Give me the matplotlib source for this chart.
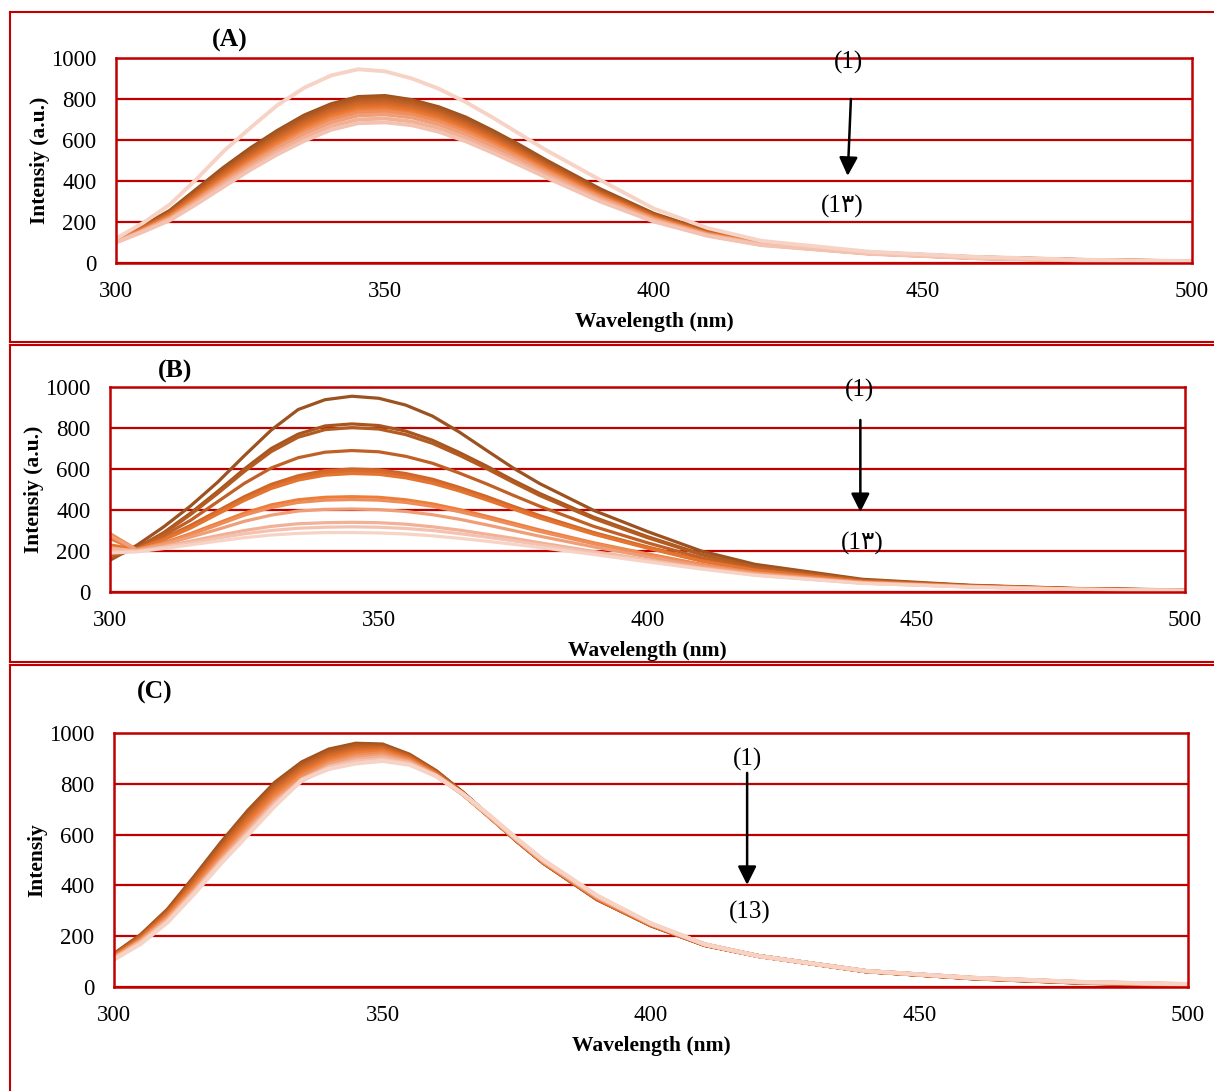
import matplotlib
matplotlib.use("Agg")
import matplotlib.pyplot as plt
from matplotlib.lines import Line2D

plt.rcParams['font.family'] = ['Liberation Serif', 'DejaVu Sans']

# wavelength grid (nm)
wl = [300, 305, 310, 315, 320, 325, 330, 335, 340, 345, 350, 355, 360, 365, 370,
      375, 380, 390, 400, 410, 420, 440, 460, 480, 500]

# panel A, curves (1) .. (13)
spec_a = [
    [115, 180, 255, 360, 465, 560, 645, 720, 775, 810, 815, 795, 760, 710, 645, 575, 500, 360, 240, 155, 100, 52, 28, 15, 8],
    [112, 178, 250, 352, 455, 550, 638, 712, 770, 805, 810, 790, 755, 702, 637, 566, 492, 352, 236, 152, 99, 51, 27, 14, 8],
    [110, 175, 246, 345, 447, 542, 628, 702, 760, 795, 800, 782, 745, 692, 628, 558, 485, 347, 233, 150, 98, 50, 27, 14, 7],
    [110, 172, 242, 340, 440, 533, 618, 692, 750, 785, 790, 772, 735, 683, 620, 550, 478, 342, 230, 148, 97, 50, 26, 14, 7],
    [108, 170, 238, 334, 432, 524, 608, 682, 740, 775, 780, 762, 726, 674, 612, 543, 472, 338, 227, 146, 96, 49, 26, 13, 7],
    [108, 168, 235, 328, 425, 515, 598, 672, 730, 765, 770, 752, 717, 666, 604, 536, 466, 334, 224, 145, 95, 49, 26, 13, 7],
    [106, 165, 230, 322, 417, 507, 590, 662, 720, 755, 760, 743, 708, 657, 596, 529, 460, 330, 221, 143, 94, 48, 25, 13, 7],
    [105, 162, 226, 316, 410, 498, 580, 652, 710, 745, 750, 733, 698, 648, 588, 522, 454, 326, 218, 141, 93, 48, 25, 13, 7],
    [104, 160, 222, 310, 402, 490, 570, 642, 700, 735, 740, 724, 690, 640, 580, 515, 448, 322, 216, 140, 92, 47, 25, 13, 7],
    [103, 158, 218, 304, 394, 480, 560, 630, 686, 720, 725, 710, 676, 627, 569, 505, 440, 316, 212, 138, 91, 47, 24, 12, 6],
    [102, 155, 213, 296, 384, 467, 545, 613, 668, 700, 705, 690, 658, 610, 553, 492, 428, 308, 207, 135, 89, 46, 24, 12, 6],
    [100, 152, 208, 288, 372, 455, 530, 596, 650, 682, 686, 672, 640, 594, 538, 478, 417, 300, 202, 132, 87, 45, 23, 12, 6],
    [120, 195, 285, 410, 545, 660, 770, 855, 915, 945, 935, 900, 850, 785, 710, 630, 550, 405, 265, 170, 108, 55, 30, 16, 9],
]

# panel B
spec_b = [
    [155, 228, 318, 420, 535, 665, 790, 890, 938, 955, 945, 912, 858, 780, 692, 605, 528, 398, 295, 200, 135, 62, 33, 17, 10],
    [165, 215, 290, 385, 490, 600, 700, 770, 810, 820, 812, 785, 740, 680, 615, 545, 480, 365, 270, 185, 125, 58, 31, 16, 9],
    [168, 215, 285, 378, 480, 588, 685, 755, 792, 802, 795, 768, 725, 667, 603, 535, 470, 358, 265, 182, 123, 57, 31, 16, 9],
    [175, 212, 275, 350, 440, 530, 605, 655, 682, 690, 684, 662, 628, 580, 528, 472, 418, 320, 240, 167, 115, 54, 30, 15, 9],
    [200, 210, 262, 325, 395, 465, 525, 567, 592, 600, 596, 578, 550, 510, 466, 418, 372, 290, 220, 155, 108, 52, 29, 15, 9],
    [210, 208, 258, 318, 388, 455, 515, 557, 582, 590, 586, 568, 540, 502, 458, 412, 366, 286, 217, 153, 107, 51, 28, 15, 8],
    [230, 207, 255, 312, 380, 447, 505, 546, 570, 578, 574, 557, 530, 493, 450, 405, 360, 282, 214, 151, 106, 51, 28, 15, 8],
    [260, 205, 240, 285, 335, 385, 425, 450, 462, 465, 462, 450, 430, 402, 370, 336, 302, 240, 186, 135, 95, 48, 27, 14, 8],
    [285, 207, 237, 280, 327, 375, 412, 437, 448, 451, 448, 437, 418, 392, 361, 328, 295, 235, 183, 133, 94, 47, 27, 14, 8],
    [275, 205, 232, 268, 305, 345, 375, 395, 403, 405, 402, 393, 377, 355, 328, 300, 272, 220, 172, 126, 90, 46, 26, 14, 8],
    [215, 200, 222, 248, 275, 300, 320, 333, 338, 340, 338, 331, 318, 302, 282, 262, 240, 198, 157, 118, 85, 44, 25, 13, 8],
    [200, 198, 218, 240, 263, 284, 300, 311, 316, 318, 316, 310, 300, 285, 268, 250, 230, 192, 153, 115, 83, 43, 25, 13, 8],
    [190, 196, 212, 230, 248, 265, 278, 286, 290, 290, 288, 283, 274, 262, 248, 233, 217, 183, 147, 112, 81, 42, 24, 13, 8],
]

# panel C
spec_c = [
    [130, 205, 305, 435, 570, 695, 805, 885, 935, 958, 955, 915, 850, 765, 670, 575, 488, 345, 242, 165, 122, 62, 34, 17, 6],
    [128, 203, 302, 430, 565, 690, 800, 880, 930, 955, 952, 913, 848, 764, 670, 575, 488, 345, 243, 165, 122, 62, 34, 17, 7],
    [127, 200, 298, 425, 558, 683, 793, 873, 925, 950, 948, 910, 846, 763, 669, 576, 489, 346, 243, 166, 122, 62, 34, 17, 7],
    [125, 198, 295, 420, 552, 676, 787, 866, 918, 944, 944, 907, 844, 762, 669, 576, 489, 346, 244, 166, 122, 62, 35, 18, 7],
    [124, 195, 291, 414, 545, 668, 780, 860, 912, 938, 940, 904, 842, 761, 669, 577, 490, 347, 244, 166, 122, 62, 35, 18, 8],
    [122, 192, 287, 408, 537, 660, 772, 853, 906, 932, 936, 901, 840, 760, 668, 577, 490, 348, 245, 167, 122, 62, 35, 18, 8],
    [120, 190, 283, 402, 530, 651, 764, 846, 899, 926, 931, 898, 838, 759, 668, 578, 491, 349, 245, 167, 122, 63, 35, 18, 9],
    [118, 187, 279, 396, 522, 642, 755, 838, 892, 920, 926, 895, 836, 759, 669, 578, 492, 350, 246, 167, 122, 63, 35, 19, 9],
    [116, 184, 274, 389, 514, 632, 745, 830, 884, 912, 920, 891, 834, 758, 670, 579, 493, 352, 247, 167, 122, 63, 35, 19, 10],
    [114, 181, 269, 382, 505, 622, 735, 820, 876, 904, 912, 887, 832, 758, 671, 580, 494, 354, 248, 168, 122, 63, 36, 19, 10],
    [112, 178, 264, 377, 498, 613, 727, 812, 868, 895, 905, 883, 832, 759, 672, 581, 496, 356, 249, 168, 122, 63, 36, 19, 11],
    [110, 174, 259, 373, 494, 606, 720, 816, 864, 888, 896, 878, 831, 760, 674, 583, 498, 358, 250, 168, 122, 63, 36, 20, 11],
    [108, 170, 255, 368, 488, 600, 713, 815, 858, 880, 890, 875, 830, 760, 675, 585, 500, 360, 250, 168, 122, 63, 36, 20, 12],
]

colors = ['#9C5220', '#A8561F', '#B45B22', '#C06026', '#CC6629', '#D86C2C', '#E4742F',
          '#EC7E3A', '#EE8D5A', '#F09E78', '#F2B096', '#F4C2B0', '#F7D3C6']

yticks = [0, 200, 400, 600, 800, 1000]
xticks = [300, 350, 400, 450, 500]
red = '#C00000'

W, H = 1214, 1091
fig = plt.figure(figsize=(W / 100, H / 100), dpi=100)


def px(x0, y0, x1, y1):
    # pixel box -> figure fraction
    return [x0 / W, 1 - y1 / H, (x1 - x0) / W, (y1 - y0) / H]


panels = [
    # data, axes box, ylabel, tag, tag pos, lw, labels
    (spec_a, (116, 58, 1192, 263), 'Intensiy (a.u.)', '(A)', (230, 40), 2.8,
     (436.2, 976, 436.6, 800, 436.0, 425, 434.9, 278, '(1\u0663)')),
    (spec_b, (110, 387, 1185, 592), 'Intensiy (a.u.)', '(B)', (175, 371), 2.3,
     (439.5, 985, 439.6, 839, 439.6, 390, 439.9, 239, '(1\u0663)')),
    (spec_c, (114, 733, 1188, 987), 'Intensiy', '(C)', (155, 692), 2.9,
     (417.9, 894, 417.9, 843, 417.9, 402, 418.4, 295, '(13)')),
]

for data, box, ylab, tag, tpos, lw, ann in panels:
    ax = fig.add_axes(px(*box))
    for row, c in zip(data, colors):
        ax.plot(wl, row, color=c, lw=lw, solid_capstyle='round', solid_joinstyle='round')
    ax.set_xlim(300, 500)
    ax.set_ylim(0, 1000)
    ax.set_xticks(xticks)
    ax.set_yticks(yticks)
    ax.tick_params(length=0, labelsize=16.5)
    ax.tick_params(axis='x', pad=13)
    ax.tick_params(axis='y', pad=14)
    ax.grid(axis='y', color=red, lw=1.6)
    ax.set_axisbelow(True)
    for s in ax.spines.values():
        s.set_color(red)
        s.set_linewidth(1.8)
    ax.set_xlabel('Wavelength (nm)', fontsize=15.5, fontweight='bold', labelpad=7)
    ax.set_ylabel(ylab, fontsize=15.5, fontweight='bold', labelpad=1)
    fig.text(tpos[0] / W, 1 - tpos[1] / H, tag, fontsize=18.5, fontweight='bold',
             ha='center', va='center')
    tx, ty, ax0, ay0, ax1, ay1, bx, by, lab13 = ann
    ax.text(tx, ty, '(1)', fontsize=18, ha='center', va='center', clip_on=False)
    ax.annotate('', xy=(ax1, ay1), xytext=(ax0, ay0),
                arrowprops=dict(arrowstyle='-|>', color='black', lw=1.8,
                                mutation_scale=28, shrinkA=0, shrinkB=0))
    ax.text(bx, by, lab13, fontsize=18, ha='center', va='center')

# red frames round the three panels
for y in [12, 342, 345, 662, 665]:
    fig.add_artist(Line2D([10 / W, 1], [1 - y / H, 1 - y / H], color=red, lw=1.5))
for y0, y1 in [(12, 342), (345, 662), (665, 1091)]:
    fig.add_artist(Line2D([10 / W, 10 / W], [1 - y0 / H, 1 - y1 / H], color=red, lw=1.5))

fig.savefig('out.png', dpi=100)
